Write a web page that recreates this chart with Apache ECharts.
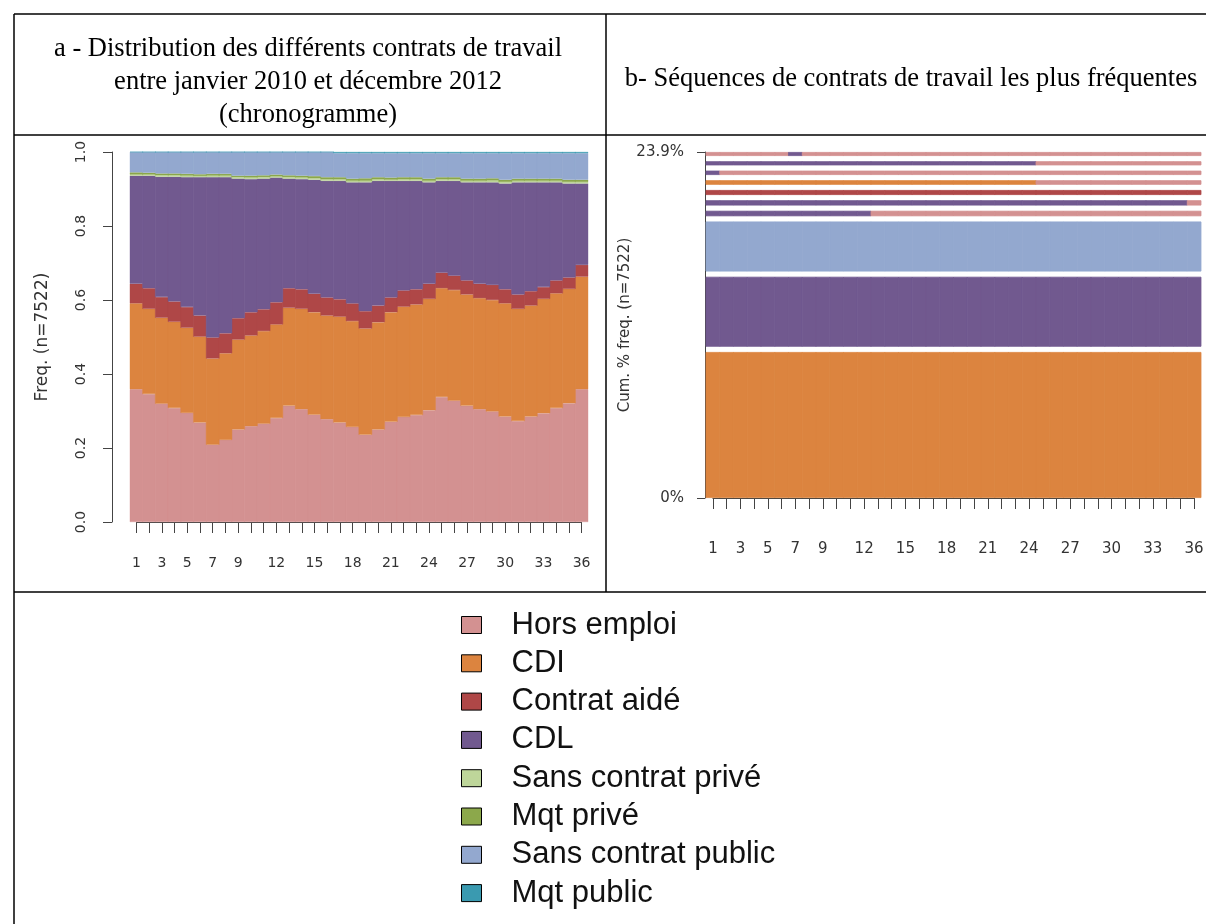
<!DOCTYPE html>
<html>
<head>
<meta charset="utf-8">
<script src="https://cdn.jsdelivr.net/npm/echarts@6/dist/echarts.min.js"></script>
<style>
html, body { margin: 0; padding: 0; background: #fff; }
#chart { width: 1206px; height: 924px; }
</style>
</head>
<body>
<div id="chart"></div>
<script>
// months of the observation window (janvier 2010 - décembre 2012)
var months = [1, 2, 3, 4, 5, 6, 7, 8, 9, 10, 11, 12, 13, 14, 15, 16, 17, 18,
    19, 20, 21, 22, 23, 24, 25, 26, 27, 28, 29, 30, 31, 32, 33, 34, 35, 36];
var xTickLabels = [1, 3, 5, 7, 9, 12, 15, 18, 21, 24, 27, 30, 33, 36];
var yTickLabels = ['0.0', '0.2', '0.4', '0.6', '0.8', '1.0'];

var stateNames = ['Hors emploi', 'CDI', 'Contrat aidé', 'CDL', 'Sans contrat privé',
    'Mqt privé', 'Sans contrat public', 'Mqt public'];
var stateColors = ['#D39191', '#DC843F', '#AF4747', '#71598F', '#BED69A',
    '#8CA84B', '#93A8CF', '#3A9AB0'];

// a - chronogramme : part de chaque état par mois
var horsEmploi = [0.359, 0.346, 0.320, 0.308, 0.295, 0.269, 0.209, 0.222, 0.250, 0.259, 0.266, 0.281,
    0.314, 0.305, 0.290, 0.278, 0.269, 0.257, 0.236, 0.250, 0.271, 0.284, 0.289, 0.302,
    0.338, 0.328, 0.314, 0.305, 0.299, 0.285, 0.273, 0.285, 0.294, 0.308, 0.321, 0.359];
var cdi = [0.232, 0.230, 0.232, 0.233, 0.230, 0.232, 0.233, 0.234, 0.243, 0.245, 0.250, 0.253,
    0.265, 0.271, 0.277, 0.280, 0.286, 0.286, 0.287, 0.290, 0.296, 0.298, 0.299, 0.301,
    0.294, 0.299, 0.301, 0.300, 0.301, 0.306, 0.303, 0.300, 0.309, 0.310, 0.309, 0.304];
var contratAide = [0.053, 0.056, 0.056, 0.055, 0.056, 0.057, 0.057, 0.054, 0.058, 0.063, 0.059, 0.060,
    0.053, 0.053, 0.050, 0.049, 0.047, 0.048, 0.047, 0.045, 0.040, 0.044, 0.041, 0.041,
    0.042, 0.039, 0.038, 0.039, 0.041, 0.038, 0.039, 0.039, 0.032, 0.035, 0.031, 0.032];
var cdl = [0.292, 0.304, 0.325, 0.337, 0.351, 0.374, 0.433, 0.422, 0.377, 0.360, 0.353, 0.337,
    0.296, 0.298, 0.308, 0.315, 0.320, 0.327, 0.348, 0.337, 0.315, 0.296, 0.293, 0.274,
    0.248, 0.256, 0.265, 0.274, 0.277, 0.286, 0.303, 0.294, 0.283, 0.265, 0.254, 0.220];
var sansContratPrive = [0.003, 0.003, 0.004, 0.004, 0.004, 0.003, 0.004, 0.004, 0.004, 0.004, 0.004, 0.003,
    0.004, 0.004, 0.004, 0.004, 0.004, 0.004, 0.004, 0.004, 0.003, 0.004, 0.004, 0.004,
    0.004, 0.004, 0.004, 0.004, 0.005, 0.004, 0.004, 0.004, 0.004, 0.004, 0.004, 0.004];
var mqtPrive = [0.006, 0.005, 0.005, 0.005, 0.005, 0.005, 0.005, 0.005, 0.004, 0.005, 0.005, 0.005,
    0.005, 0.005, 0.006, 0.006, 0.006, 0.006, 0.007, 0.006, 0.006, 0.006, 0.006, 0.006,
    0.006, 0.006, 0.006, 0.006, 0.006, 0.006, 0.006, 0.006, 0.006, 0.006, 0.006, 0.006];
var sansContratPublic = [0.055, 0.056, 0.058, 0.058, 0.059, 0.060, 0.059, 0.059, 0.064, 0.064, 0.063, 0.061,
    0.063, 0.064, 0.065, 0.068, 0.065, 0.069, 0.068, 0.065, 0.066, 0.065, 0.065, 0.069,
    0.065, 0.065, 0.069, 0.069, 0.068, 0.072, 0.069, 0.069, 0.069, 0.069, 0.072, 0.072];
var mqtPublic = [0, 0, 0, 0, 0, 0, 0, 0, 0, 0, 0, 0,
    0, 0, 0, 0, 0.003, 0.003, 0.003, 0.003, 0.003, 0.003, 0.003, 0.003,
    0.003, 0.003, 0.003, 0.003, 0.003, 0.003, 0.003, 0.003, 0.003, 0.003, 0.003, 0.003];

// b - séquences les plus fréquentes (du bas vers le haut), fréquence en %
var seqFreq = [11.68, 5.60, 4.00, 0.44, 0.42, 0.40, 0.36, 0.35, 0.33, 0.32];
var seqRuns = [
    [['CDI', 36]],
    [['CDL', 36]],
    [['Sans contrat public', 36]],
    [['CDL', 12], ['Hors emploi', 24]],
    [['CDL', 35], ['Hors emploi', 1]],
    [['Contrat aidé', 36]],
    [['CDI', 24], ['Hors emploi', 12]],
    [['CDL', 1], ['Hors emploi', 35]],
    [['CDL', 24], ['Hors emploi', 12]],
    [['Hors emploi', 6], ['CDL', 1], ['Hors emploi', 29]]
];
var seqGap = 0.42;

var chrono = [horsEmploi, cdi, contratAide, cdl, sansContratPrive, mqtPrive, sansContratPublic, mqtPublic];

function colorOf(state) {
    return stateColors[stateNames.indexOf(state)];
}
function expandRuns(runs) {
    var out = [];
    runs.forEach(function (r) {
        for (var k = 0; k < r[1]; k++) out.push(r[0]);
    });
    return out;
}

var seqTotal = seqFreq.reduce(function (a, b) { return a + b; }, 0);
var seqMax = seqTotal + seqGap * (seqFreq.length - 1);

var leftFont = { fontFamily: 'DejaVu Sans', fontSize: 14, color: '#333' };
var rightFont = { fontFamily: 'DejaVu Sans', fontSize: 15, color: '#333' };

// bars slightly wider than the band so neighbouring months do not leave seams
var series = [];
stateNames.forEach(function (name, i) {
    series.push({
        type: 'bar', name: name, stack: 'chrono',
        xAxisIndex: 0, yAxisIndex: 0,
        barWidth: '106%', silent: true,
        itemStyle: { color: stateColors[i], borderColor: stateColors[i], borderWidth: 0.4 },
        data: chrono[i]
    });
});
seqRuns.forEach(function (runs, s) {
    var states = expandRuns(runs);
    series.push({
        type: 'bar', name: 'séquence ' + (s + 1), stack: 'seq',
        xAxisIndex: 2, yAxisIndex: 2,
        barWidth: '106%', silent: true,
        data: states.map(function (st) {
            var c = colorOf(st);
            return { value: seqFreq[s], itemStyle: { color: c, borderColor: c, borderWidth: 0.8 } };
        })
    });
    if (s < seqRuns.length - 1) {
        series.push({
            type: 'bar', name: 'espace ' + (s + 1), stack: 'seq',
            xAxisIndex: 2, yAxisIndex: 2,
            barWidth: '100%', silent: true,
            itemStyle: { color: 'rgba(0,0,0,0)' },
            data: months.map(function () { return seqGap; })
        });
    }
});

function tickAxis(gridIndex, offset, margin, font) {
    return {
        type: 'value', gridIndex: gridIndex, min: 1, max: 36, interval: 1,
        position: 'bottom', offset: offset,
        axisLine: { show: true, lineStyle: { color: '#444', width: 1 } },
        axisTick: { show: true, length: 11, lineStyle: { color: '#444', width: 1 } },
        splitLine: { show: false },
        axisLabel: Object.assign({
            margin: margin, showMinLabel: true, showMaxLabel: true,
            formatter: function (v) { return xTickLabels.indexOf(v) >= 0 ? String(v) : ''; }
        }, font)
    };
}

var lineStyle = { stroke: '#000', lineWidth: 1.5 };
function hline(x1, x2, y) {
    return { type: 'line', shape: { x1: x1, y1: y, x2: x2, y2: y }, style: lineStyle, silent: true };
}
function vline(x, y1, y2) {
    return { type: 'line', shape: { x1: x, y1: y1, x2: x, y2: y2 }, style: lineStyle, silent: true };
}
var titleFont = '26.5px "Liberation Serif"';
function titleText(str, x, y) {
    return {
        type: 'text', x: x, y: y, silent: true,
        style: { text: str, font: titleFont, fill: '#000', textAlign: 'center', textVerticalAlign: 'middle' }
    };
}

var chart = echarts.init(document.getElementById('chart'), null, { renderer: 'canvas' });
chart.setOption({
    backgroundColor: '#fff',
    animation: false,
    grid: [
        { left: 130, top: 152, width: 458, height: 370, outerBoundsMode: 'none' },
        { left: 136.4, top: 152, width: 445.2, height: 370, outerBoundsMode: 'none' },
        { left: 706, top: 152, width: 495, height: 346, outerBoundsMode: 'none' },
        { left: 712.9, top: 152, width: 481.2, height: 346, outerBoundsMode: 'none' }
    ],
    xAxis: [
        { type: 'category', gridIndex: 0, data: months, show: false },
        tickAxis(1, 9, 25, leftFont),
        { type: 'category', gridIndex: 2, data: months, show: false },
        tickAxis(3, 16, 28, rightFont)
    ],
    yAxis: [
        {
            type: 'value', gridIndex: 0, min: 0, max: 1, interval: 0.2, offset: 18,
            axisLine: { show: true, lineStyle: { color: '#444', width: 1 } },
            axisTick: { show: true, length: 9, lineStyle: { color: '#444', width: 1 } },
            splitLine: { show: false },
            axisLabel: Object.assign({
                rotate: 90, margin: 24,
                formatter: function (v) { return yTickLabels[Math.round(v * 5)]; }
            }, leftFont),
            name: 'Freq. (n=7522)', nameLocation: 'middle', nameGap: 61, nameRotate: 90,
            nameTextStyle: { fontFamily: 'DejaVu Sans', fontSize: 17, color: '#333' }
        },
        { type: 'value', gridIndex: 1, min: 0, max: 1, show: false },
        {
            type: 'value', gridIndex: 2, min: 0, max: seqMax, interval: seqMax, offset: 1,
            axisLine: { show: true, lineStyle: { color: '#444', width: 1 } },
            axisTick: { show: true, length: 8, lineStyle: { color: '#444', width: 1 } },
            splitLine: { show: false },
            axisLabel: Object.assign({
                margin: 21,
                formatter: function (v) { return v === 0 ? '0%' : seqTotal.toFixed(1) + '%'; }
            }, rightFont),
            name: 'Cum. % freq. (n=7522)', nameLocation: 'middle', nameGap: 53, nameRotate: 90,
            nameTextStyle: rightFont
        },
        { type: 'value', gridIndex: 3, min: 0, max: 1, show: false }
    ],
    legend: {
        data: stateNames, orient: 'vertical', left: 456, top: 604,
        itemWidth: 20, itemHeight: 17, itemGap: 6.3, icon: 'rect',
        selectedMode: false,
        itemStyle: { borderColor: '#000', borderWidth: 1 },
        textStyle: { fontFamily: 'Liberation Sans', fontSize: 31, color: '#111', lineHeight: 32, padding: [0, 0, 0, 25] }
    },
    graphic: [
        hline(14, 1206, 14),
        hline(14, 1206, 135),
        hline(14, 1206, 592),
        vline(14, 14, 924),
        vline(606, 14, 592),
        titleText('a - Distribution des différents contrats de travail', 308, 49.5),
        titleText('entre janvier 2010 et décembre 2012', 308, 82.5),
        titleText('(chronogramme)', 308, 115.5),
        titleText('b- Séquences de contrats de travail les plus fréquentes', 911, 79)
    ],
    series: series
});
</script>
</body>
</html>
